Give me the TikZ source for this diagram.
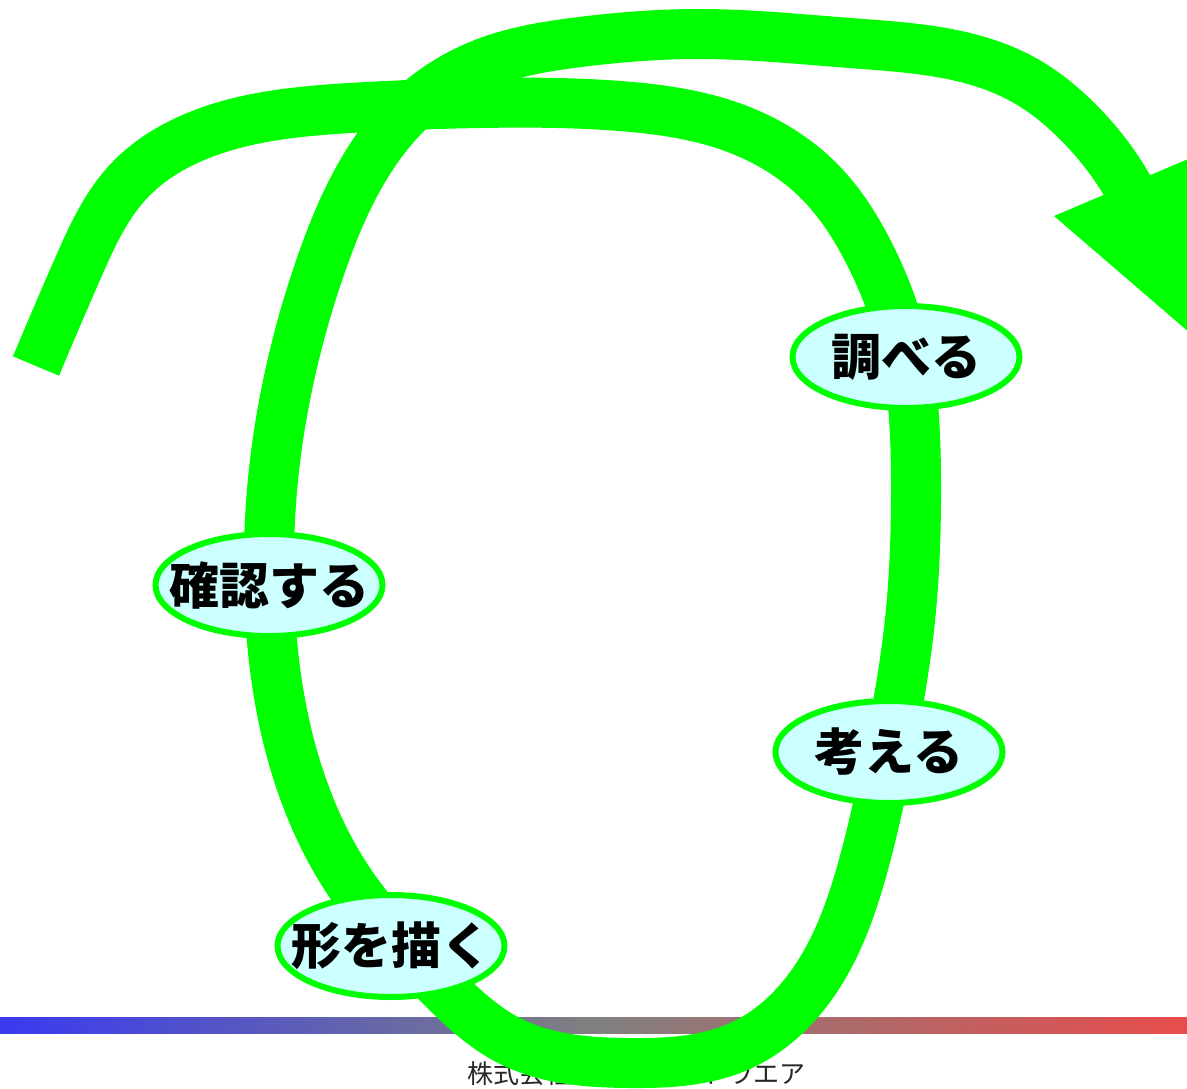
\documentclass[tikz,border=0pt]{standalone}
\usepackage{fontspec}
\newfontfamily\jp{Noto Sans CJK JP}
\usetikzlibrary{shapes.geometric,hobby}
\definecolor{loopgreen}{RGB}{0,255,0}
\definecolor{nodefill}{RGB}{204,255,255}
\definecolor{gblue}{RGB}{58,58,240}
\definecolor{ggray}{RGB}{128,128,128}
\definecolor{gred}{RGB}{232,76,76}
\definecolor{footgray}{RGB}{40,40,40}
\tikzset{
  loopline/.style={draw=loopgreen, line width=50pt, line cap=butt, line join=round},
  stepnode/.style={ellipse, draw=loopgreen, line width=6pt, fill=nodefill,
    minimum width=227pt, minimum height=102pt, inner sep=0pt,
    font=\jp\bfseries\fontsize{50}{60}\selectfont},
  foot/.style={font=\jp\fontsize{26}{30}\selectfont, text=footgray, inner sep=0pt, anchor=base}
}
\begin{document}
\begin{tikzpicture}[x=1pt,y=-1pt]
\useasboundingbox (0,0) rectangle (1187,1088);
\clip (0,0) rectangle (1187,1088);
% node positions
\coordinate (pShiraberu) at (906,357);
\coordinate (pKangaeru) at (889,752);
\coordinate (pKatachi) at (391,946);
\coordinate (pKakunin) at (269,585);
% gradient rule and footer
\shade[left color=gblue, right color=gred, middle color=ggray] (0,1017) rectangle (1187,1033);
\node[foot] (footer) at (636,1083) {株式会社ミライソフトウエア};
% the loop
\draw[loopline, use Hobby shortcut] (36,366) .. (78,268) .. (128,182) .. (210,131)
 .. (350,108) .. (480,103) .. (620,106) .. (740,130) .. (820,182) .. (870,255)
 .. (pShiraberu) .. (916,480) .. (910,620) .. (pKangaeru) .. (862,870) .. (815,980)
 .. (740,1046) .. (630,1063) .. (512,1042) .. (430,975) .. (357,893) .. (300,780)
 .. (pKakunin) .. (274,470) .. (292,365) .. (322,262) .. (362,172) .. (412,108)
 .. (482,64) .. (580,42) .. (700,34) .. (850,43) .. (1024,80)
 .. (1081,125) .. (1112,162) .. (1137,204);
\coordinate (hl) at (1054,216);
\coordinate (hr) at (1200,154);
\coordinate (ht) at (1190,333);
\fill[loopgreen] (hl) -- (hr) -- (ht) -- cycle;
% nodes
\node[stepnode] (shiraberu) at (pShiraberu) {\makebox[0pt]{調べる}};
\node[stepnode] (kangaeru) at (pKangaeru) {\makebox[0pt]{考える}};
\node[stepnode] (katachi) at (pKatachi) {\makebox[0pt]{形を描く}};
\node[stepnode] (kakunin) at (pKakunin) {\makebox[0pt]{確認する}};
\end{tikzpicture}
\end{document}
